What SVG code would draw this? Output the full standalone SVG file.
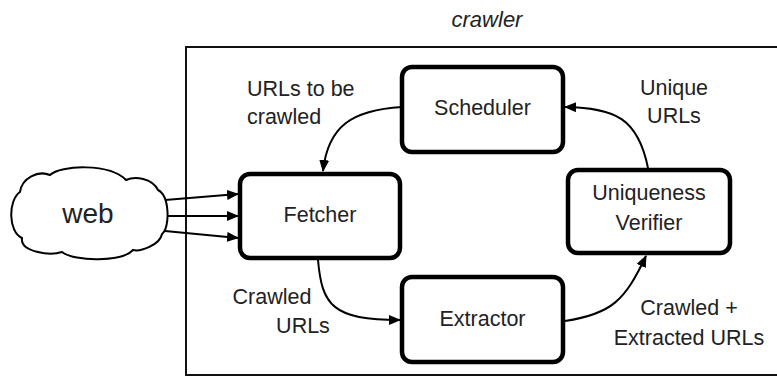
<svg xmlns="http://www.w3.org/2000/svg" width="777" height="378" viewBox="0 0 777 378">
  <style>
    text { font-family: "Liberation Sans", Arial, sans-serif; fill: #222; }
    .node { fill: #fff; stroke: #000; stroke-width: 4.5; }
    .lbl { font-size: 21.5px; }
    .ntxt { font-size: 21.5px; text-anchor: middle; }
    .edge { fill: none; stroke: #000; stroke-width: 2; marker-end: url(#arrow); }
  </style>
  <defs>
    <marker id="arrow" viewBox="0 0 12 10" refX="11" refY="5" markerWidth="12" markerHeight="10" markerUnits="userSpaceOnUse" orient="auto">
      <path d="M0,0 L12,5 L0,10 Z" fill="#000"/>
    </marker>
  </defs>

  <rect width="777" height="378" fill="#fff"/>

  <!-- crawler boundary -->
  <g id="crawler">
    <rect x="186" y="47" width="620" height="328" fill="none" stroke="#111" stroke-width="2"/>
    <text x="487" y="27" text-anchor="middle" font-style="italic" font-size="22">crawler</text>
  </g>

  <!-- connectors -->
  <g id="connectors">
    <line class="edge" x1="165" y1="200" x2="238" y2="194"/>
    <line class="edge" x1="166" y1="216" x2="238" y2="216"/>
    <line class="edge" x1="165" y1="231" x2="238" y2="238"/>
    <path class="edge" d="M402,107 C352,110 328,126 323,171"/>
    <path class="edge" d="M318,260 C322,305 332,320 400,320"/>
    <path class="edge" d="M565,321 C612,314 625,300 646,256"/>
    <path class="edge" d="M648,168 C638,118 615,108 565,107"/>
  </g>

  <g id="web">
    <path d="M20,192 C22,178 38,170 50,175 C60,165 110,163 126,180 C135,176 152,178 158,190 C170,196 170,228 162,234 C160,245 140,252 133,250 C122,262 75,262 62,252 C50,256 20,252 22,238 C8,232 8,200 20,192 Z" fill="#fff" stroke="#000" stroke-width="2"/>
    <text x="88" y="223" text-anchor="middle" font-size="28">web</text>
  </g>

  <g id="scheduler">
    <rect class="node" x="402" y="67" width="161" height="85" rx="10"/>
    <text class="ntxt" x="482.5" y="115">Scheduler</text>
  </g>

  <g id="fetcher">
    <rect class="node" x="240" y="174" width="160" height="84" rx="10"/>
    <text class="ntxt" x="320" y="222">Fetcher</text>
  </g>

  <g id="extractor">
    <rect class="node" x="402" y="277" width="161" height="85" rx="10"/>
    <text class="ntxt" x="482.5" y="326">Extractor</text>
  </g>

  <g id="verifier">
    <rect class="node" x="568" y="170" width="162" height="83" rx="10"/>
    <text class="ntxt" x="649" y="200">Uniqueness</text>
    <text class="ntxt" x="649" y="230">Verifier</text>
  </g>

  <!-- edge labels -->
  <g id="labels">
    <text class="lbl" x="247" y="96">URLs to be</text>
    <text class="lbl" x="247" y="124">crawled</text>
    <text class="lbl" x="674" y="95" text-anchor="middle">Unique</text>
    <text class="lbl" x="674" y="123" text-anchor="middle">URLs</text>
    <text class="lbl" x="272" y="304" text-anchor="middle">Crawled</text>
    <text class="lbl" x="303" y="333" text-anchor="middle">URLs</text>
    <text class="lbl" x="689" y="315" text-anchor="middle">Crawled +</text>
    <text class="lbl" x="689" y="345" text-anchor="middle">Extracted URLs</text>
  </g>
</svg>
